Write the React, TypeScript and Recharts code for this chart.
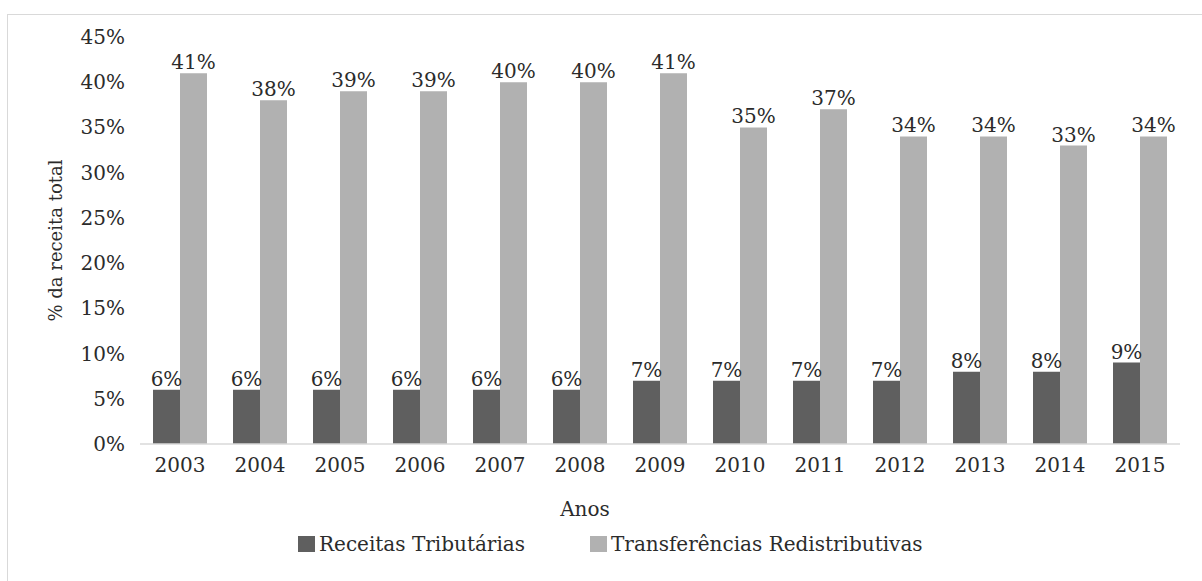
import { BarChart, Bar, XAxis, YAxis, LabelList, Legend } from "recharts";

const years = ["2003", "2004", "2005", "2006", "2007", "2008", "2009", "2010", "2011", "2012", "2013", "2014", "2015"];
const receitasTributarias = [6, 6, 6, 6, 6, 6, 7, 7, 7, 7, 8, 8, 9];
const transferencias = [41, 38, 39, 39, 40, 40, 41, 35, 37, 34, 34, 33, 34];
const yTicks = [0, 5, 10, 15, 20, 25, 30, 35, 40, 45];

const DARK = "#5f5f5f";
const LIGHT = "#b1b1b1";
const TEXT = "#2b2b2b";
const FONT = "'DejaVu Serif', serif";

const data = years.map((y, i) => ({
  year: y,
  receitas: receitasTributarias[i],
  transf: transferencias[i],
}));

function YTick(props: any) {
  const { y, payload } = props;
  return (
    <text x={125} y={y} dy="0.35em" textAnchor="end" fill={TEXT} fontSize={20} fontFamily={FONT}>
      {payload.value}%
    </text>
  );
}

function XTick(props: any) {
  const { x, y, payload } = props;
  return (
    <text x={x} y={y} dy={26} textAnchor="middle" fill={TEXT} fontSize={20} fontFamily={FONT}>
      {payload.value}
    </text>
  );
}

function YLabel(props: any) {
  const { viewBox } = props;
  const cy = viewBox.y + viewBox.height / 2;
  return (
    <text
      x={55}
      y={cy}
      transform={`rotate(-90, 55, ${cy})`}
      textAnchor="middle"
      dominantBaseline="central"
      fill={TEXT}
      fontSize={18}
      fontFamily={FONT}
    >
      % da receita total
    </text>
  );
}

function XLabel(props: any) {
  const { viewBox } = props;
  return (
    <text x={viewBox.x + 445} y={viewBox.y + 72} textAnchor="middle" fill={TEXT} fontSize={20} fontFamily={FONT}>
      Anos
    </text>
  );
}

function LegendContent() {
  const items = [
    { name: "Receitas Tributárias", color: DARK },
    { name: "Transferências Redistributivas", color: LIGHT },
  ];
  return (
    <div style={{ display: "flex", alignItems: "center", gap: 65, fontFamily: FONT, fontSize: 20, color: TEXT }}>
      {items.map((it) => (
        <div key={it.name} style={{ display: "flex", alignItems: "center", gap: 4 }}>
          <span style={{ width: 17, height: 16, background: it.color, display: "inline-block" }} />
          <span>{it.name}</span>
        </div>
      ))}
    </div>
  );
}

export default function App() {
  return (
    <div style={{ position: "absolute", left: 0, top: 0, width: 1202, height: 581, background: "#fff", overflow: "hidden" }}>
      <div
        style={{
          position: "absolute",
          left: 7,
          top: 14,
          width: 1220,
          height: 600,
          border: "1px solid #d9d9d9",
        }}
      />
      <div style={{ position: "absolute", left: 0, top: 0 }}>
        <BarChart
          width={1202}
          height={581}
          data={data}
          margin={{ top: 37, right: 22, bottom: 83, left: 0 }}
          barCategoryGap={13}
          barGap={0}
        >
          <XAxis
            dataKey="year"
            height={30}
            axisLine={{ stroke: "#d9d9d9", strokeWidth: 1.5 }}
            tickLine={false}
            tickSize={0}
            tick={<XTick />}
            interval={0}
            label={<XLabel />}
          />
          <YAxis
            width={140}
            domain={[0, 45]}
            ticks={yTicks}
            axisLine={false}
            tickLine={false}
            tick={<YTick />}
            interval={0}
            label={<YLabel />}
          />
          <Legend
            verticalAlign="bottom"
            content={<LegendContent />}
            wrapperStyle={{ position: "absolute", left: 298, top: 532, width: "auto", bottom: "auto" }}
          />
          <Bar dataKey="receitas" fill={DARK} isAnimationActive={false}>
            <LabelList
              dataKey="receitas"
              position="top"
              offset={4}
              formatter={(v: any) => `${v}%`}
              style={{ fill: TEXT, fontSize: 20, fontFamily: FONT }}
            />
          </Bar>
          <Bar dataKey="transf" fill={LIGHT} isAnimationActive={false}>
            <LabelList
              dataKey="transf"
              position="top"
              offset={4}
              formatter={(v: any) => `${v}%`}
              style={{ fill: TEXT, fontSize: 20, fontFamily: FONT }}
            />
          </Bar>
        </BarChart>
      </div>
    </div>
  );
}
